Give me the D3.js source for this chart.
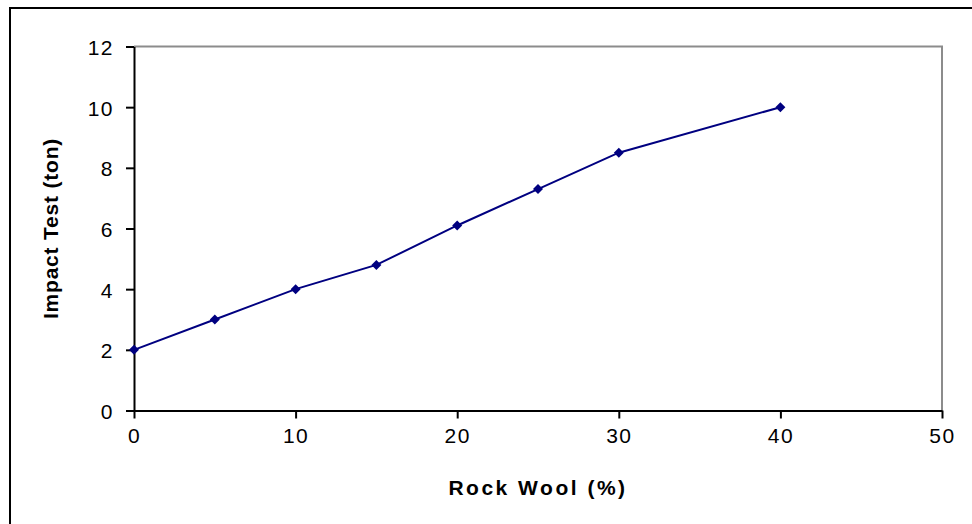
<!DOCTYPE html>
<html>
<head>
<meta charset="utf-8">
<script src="https://cdn.jsdelivr.net/npm/d3@7"></script>
<style>
  html, body { margin: 0; padding: 0; background: #fff; }
  svg { display: block; }
  text { font-family: "Liberation Sans", Arial, sans-serif; fill: #000; }
</style>
</head>
<body>
<svg id="chart" width="972" height="524"></svg>
<script>
// Rock wool content (%) and measured impact load (ton)
const rockWool = [0, 5, 10, 15, 20, 25, 30, 40];
const impactTon = [2.0, 3.0, 4.0, 4.8, 6.1, 7.3, 8.5, 10.0];
const xTicks = [0, 10, 20, 30, 40, 50];
const yTicks = [0, 2, 4, 6, 8, 10, 12];
const xTitle = "Rock Wool (%)";
const yTitle = "Impact Test (ton)";

const svg = d3.select("#chart");
const W = 972, H = 524;
const plot = { left: 134, right: 942, top: 46.5, bottom: 410.5 };

// Outer frame
svg.append("rect")
  .attr("x", 10).attr("y", 8)
  .attr("width", W + 20).attr("height", H + 20)
  .attr("fill", "none").attr("stroke", "#000").attr("stroke-width", 2);

const x = d3.scaleLinear().domain([0, 50]).range([plot.left, plot.right]);
const y = d3.scaleLinear().domain([0, 12]).range([plot.bottom, plot.top]);

// Plot-area border: gray top and right edges
svg.append("path")
  .attr("d", `M${plot.left},${plot.top}H${plot.right}V${plot.bottom}`)
  .attr("fill", "none").attr("stroke", "#8c8c8c").attr("stroke-width", 2);

// Axes
const xAxis = d3.axisBottom(x).tickValues(xTicks).tickSize(8).tickPadding(10).tickSizeOuter(0);
const yAxis = d3.axisLeft(y).tickValues(yTicks).tickSize(8).tickPadding(12).tickSizeOuter(0);

const gx = svg.append("g").attr("transform", `translate(0,${plot.bottom})`).call(xAxis);
const gy = svg.append("g").attr("transform", `translate(${plot.left},0)`).call(yAxis);

[gx, gy].forEach(g => {
  g.select(".domain").attr("stroke", "#000").attr("stroke-width", 2);
  g.selectAll(".tick line").attr("stroke", "#000").attr("stroke-width", 2);
  g.selectAll(".tick text")
    .attr("font-size", 21)
    .attr("letter-spacing", 1.5)
    .attr("font-family", "'Liberation Sans', Arial, sans-serif")
    .attr("fill", "#000");
});
gy.selectAll(".tick text").attr("dy", "0.38em");

// Axis titles
svg.append("text")
  .attr("x", (plot.left + plot.right) / 2)
  .attr("y", 495)
  .attr("text-anchor", "middle")
  .attr("font-size", 21)
  .attr("font-weight", "bold")
  .attr("letter-spacing", 2.5)
  .text(xTitle);

svg.append("text")
  .attr("transform", `translate(58,${(plot.top + plot.bottom) / 2}) rotate(-90)`)
  .attr("text-anchor", "middle")
  .attr("font-size", 21)
  .attr("font-weight", "bold")
  .attr("letter-spacing", 0.8)
  .text(yTitle);

// Data line
const data = rockWool.map((v, i) => ({ x: v, y: impactTon[i] }));
svg.append("path")
  .datum(data)
  .attr("fill", "none")
  .attr("stroke", "#000080")
  .attr("stroke-width", 2)
  .attr("d", d3.line().x(d => x(d.x)).y(d => y(d.y)));

// Diamond markers
svg.append("g").selectAll("path")
  .data(data)
  .join("path")
  .attr("transform", d => `translate(${x(d.x)},${y(d.y)})`)
  .attr("d", "M0,-5L5,0L0,5L-5,0Z")
  .attr("fill", "#000080");
</script>
</body>
</html>
